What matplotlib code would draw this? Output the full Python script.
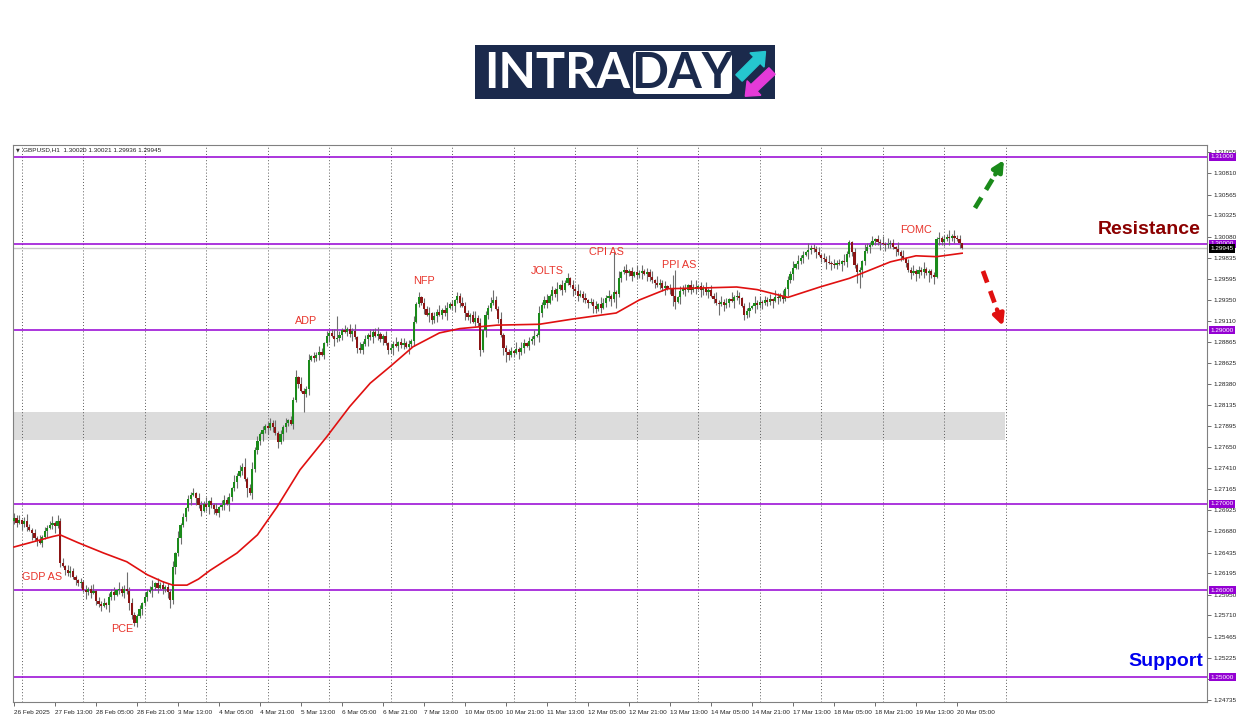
import numpy as np
import matplotlib
matplotlib.use("Agg")
import matplotlib.pyplot as plt
from matplotlib.patches import Rectangle, FancyBboxPatch, FancyArrow
import matplotlib.transforms as mtransforms

# ---------------- data ----------------
# hourly closes in pips above 1.2500 (bar 0 = 26 Feb 21:00)
closes_pips = [
    184, 178, 181, 176, 180, 173,
    170, 166, 160, 158, 155,
    162, 168, 172, 175, 178, 174, 180,
    132,
    128, 124, 120, 122, 115, 112, 108, 110,
    100, 98, 101, 97, 99,
    88, 84, 82, 85, 83,
    92, 98, 95, 100, 102, 97, 101, 99,
    85, 72, 62,
    70, 78, 85, 92, 98, 100,
    104, 108, 103, 106, 101, 104, 98,
    89,
    127,
    143, 160, 175, 185,
    195, 205, 210, 212, 206,
    198, 192, 200, 196, 203, 198, 194, 189, 196, 199, 204, 200, 208,
    218, 225, 232, 238, 242,
    228, 218, 212,
    240, 262, 272, 280, 285,
    290, 287, 293, 288, 282, 271,
    280, 288, 293, 296, 292,
    320, 346,
    338, 330, 326, 332,
    366, 370, 368, 372, 375, 372,
    385, 393, 397,
    394, 390, 391,
    395, 400, 398, 402, 396, 399, 392,
    380, 377, 384,
    390, 395, 392, 398, 394, 396, 390, 393, 385,
    377,
    380, 384, 382, 386, 383, 385, 381, 384, 388,
    410, 430, 438, 432,
    425, 418, 420, 412, 416, 421, 418, 424, 420,
    426, 430, 428, 435, 440, 432, 428,
    420, 415, 418, 410, 414, 408,
    377,
    400, 418, 426, 432, 435, 425, 413,
    395, 380, 375,
    372, 376, 374, 378, 375,
    380, 385, 382, 388, 390, 394, 395,
    420, 429,
    435, 432, 440, 446, 442, 448, 452, 447, 455, 460, 452,
    448, 445, 440, 442, 437, 435, 432, 433,
    428, 425, 430, 426,
    432, 437, 440, 436, 444, 442,
    460, 467, 470,
    466, 468, 463, 467, 464, 466, 469, 465, 467, 462,
    458, 455, 452, 455, 449, 451, 448, 449,
    440, 433, 438,
    445, 449, 446, 452, 447, 450, 448, 451, 446, 449, 444, 447,
    440, 436, 432, 430, 433, 429,
    432, 436, 434, 438, 440, 437, 428, 418,
    422, 426, 428, 432, 429, 433, 431, 435, 433,
    436, 434, 438, 437, 440, 436,
    448, 458, 465, 472,
    476, 480, 484, 487, 490, 493, 495, 494,
    490, 487, 484, 482, 479, 478, 476, 475,
    478, 477, 480, 479, 488, 502,
    490, 475, 467, 470,
    480, 492, 496, 499,
    503, 505, 502, 501, 500, 498, 500, 501,
    496, 494, 490, 486, 483,
    478, 470, 466, 469, 465, 470, 467, 471, 466, 468, 464, 462,
    505,
    507, 502, 505, 508, 506, 509, 507, 505, 500.2, 494.5,
]
first_open_pips = 180

# wick lengths, one digit per bar, in units of 1.6 pips
upper_wick_digits = (
    "324135213241323514231342" "213142351324132415231342" "231423514231324152313241"
    "432513241342315243213524" "231342513241324153241324" "314235132413251423142351"
    "241325134231425132413251" "342315243213524132413251" "423152431324152341325142"
    "314253241324153241325134" "231524132415324132514231" "425132413251423152431324"
    "152413241532413251423152" "324132514231524132415324" "132514231524132413251423"
    "24132514231"
)
lower_wick_digits = (
    "231423152413241352314231" "423152413241352413241532" "314231524132413524132415"
    "241352413241532413251423" "352413241532142315241324" "132415324132514231524132"
    "413251423152413241532413" "251342315241324153241325" "142315241324153241325142"
    "315241324153241325142315" "241324153241325142315241" "324153241325142315241324"
    "153241325142315241324153" "241325142315241324153241" "325142315241324153241325"
    "14231524132"
)
wick_unit_pips = 1.6
# larger wicks (bar: (upper pips, lower pips))
wick_overrides = {
    17: (7, 2), 44: (20, 3), 61: (2, 9), 90: (11, 2), 91: (3, 10), 110: (8, 3),
    113: (3, 20), 126: (25, 3), 158: (6, 3), 173: (4, 3), 187: (11, 3), 192: (3, 12),
    216: (6, 3), 234: (46, 3), 235: (3, 16), 257: (15, 12), 258: (30, 8),
    275: (3, 12), 285: (3, 6), 326: (2, 3), 329: (3, 12), 330: (3, 18),
    357: (3, 10), 359: (3, 8), 370: (0.1, 0.9),
}

# moving average (bar, pips)
ma_bars = [0, 10, 15, 18, 25, 35, 44, 52, 58, 62, 67.5, 72, 76.5, 87, 95, 102.6, 111.6,
           122, 131, 139, 146.7, 155.7, 166, 174, 188.5, 205, 218, 235, 244, 255, 270,
           282, 290, 302, 314.5, 326, 342, 352, 360, 370]
ma_pips = [150, 158, 162, 164, 155, 143, 133, 118, 110, 106, 106, 113, 123, 143, 164,
           196, 239, 277, 312, 339, 358, 381, 397, 402, 406, 407, 413, 420, 435, 448,
           449, 450, 447, 438, 450, 460, 479, 486, 485, 489]

levels = [1.31000, 1.30000, 1.29000, 1.27000, 1.26000, 1.25000]
zone_low, zone_high = 1.27735, 1.28062
last_price = 1.29945

price_ticks = [1.31055, 1.30810, 1.30565, 1.30325, 1.30080, 1.29835, 1.29595, 1.29350,
               1.29110, 1.28865, 1.28625, 1.28380, 1.28135, 1.27895, 1.27650, 1.27410,
               1.27165, 1.26925, 1.26680, 1.26435, 1.26195, 1.25950, 1.25710, 1.25465,
               1.25225, 1.24980, 1.24735]

x_label_bars = [16 * k for k in range(24)]
x_labels = ['26 Feb 2025', '27 Feb 13:00', '28 Feb 05:00', '28 Feb 21:00', '3 Mar 13:00',
            '4 Mar 05:00', '4 Mar 21:00', '5 Mar 13:00', '6 Mar 05:00', '6 Mar 21:00',
            '7 Mar 13:00', '10 Mar 05:00', '10 Mar 21:00', '11 Mar 13:00', '12 Mar 05:00',
            '12 Mar 21:00', '13 Mar 13:00', '14 Mar 05:00', '14 Mar 21:00', '17 Mar 13:00',
            '18 Mar 05:00', '18 Mar 21:00', '19 Mar 13:00', '20 Mar 05:00']
day_grid_bars = [3 + 24 * k for k in range(17)]

event_labels = ['GDP AS', 'PCE', 'ADP', 'NFP', 'JOLTS', 'CPI AS', 'PPI AS', 'FOMC']
event_bars = [3.1, 37.9, 109.7, 155.7, 201.8, 224.4, 252.9, 345.8]
event_prices = [1.26154, 1.25554, 1.29108, 1.29569, 1.29690, 1.29904, 1.29754, 1.30158]

header = "GBPUSD,H1  1.30020 1.30021 1.29936 1.29945"

# ---------------- figure ----------------
W, H = 1250, 716
SMALL = 4.6
fig = plt.figure(figsize=(12.5, 7.16), dpi=100)
fig.patch.set_facecolor('white')

ax = fig.add_axes([13 / W, 1 - 702 / H, (1207 - 13) / W, (702 - 145) / H])
ax.set_facecolor('white')

closes = np.array(closes_pips, dtype=float) / 10000 + 1.25
n = len(closes)
opens = np.concatenate([[first_open_pips / 10000 + 1.25], closes[:-1]])
up_w = np.array([int(c) for c in upper_wick_digits[:n]], dtype=float) * wick_unit_pips
lo_w = np.array([int(c) for c in lower_wick_digits[:n]], dtype=float) * wick_unit_pips
for b, (u, l) in wick_overrides.items():
    if b < n:
        up_w[b], lo_w[b] = u, l
highs = np.maximum(opens, closes) + up_w / 10000
lows = np.minimum(opens, closes) - lo_w / 10000
idx = np.arange(n)

# zone and levels
ax.add_patch(Rectangle((-1, zone_low), 387.8, zone_high - zone_low,
                       facecolor='#dcdcdc', edgecolor='none', zorder=0))
for b in day_grid_bars:
    ax.axvline(b, color='#5a5a5a', lw=0.7, dashes=(1, 2.2), zorder=0.5)
ax.axhline(last_price, color='#c8c8c8', lw=1.0, zorder=0.6)
for lv in levels:
    ax.axhline(lv, color='#9400d3', lw=1.1, zorder=1)

# candles
ax.vlines(idx, lows, highs, color='#6e6e6e', lw=0.8, zorder=2)
bull = closes >= opens
body_h = np.maximum(np.abs(closes - opens), 0.00004)
body_b = np.minimum(opens, closes)
ax.bar(idx[bull], body_h[bull], bottom=body_b[bull], width=0.85, color='#1a8a1a',
       edgecolor='none', zorder=3)
ax.bar(idx[~bull], body_h[~bull], bottom=body_b[~bull], width=0.85, color='#8b1515',
       edgecolor='none', zorder=3)

# moving average
ax.plot(ma_bars, np.array(ma_pips) / 10000 + 1.25, color='#e01010', lw=1.2, zorder=4,
        solid_joinstyle='round')

# event labels
for lab, bx, py in zip(event_labels, event_bars, event_prices):
    ax.text(bx, py, lab, color='#e8352c', fontsize=7.8, family='Liberation Sans',
            ha='left', va='center', zorder=5)

ax.set_xlim((13 - 14) / 2.5625, (1207 - 14) / 2.5625)
ax.set_ylim(1.25 - 25 / 8667, 1.31 + 12 / 8667)

# axes styling
for s in ax.spines.values():
    s.set_color('#808080')
    s.set_linewidth(0.8)
ax.yaxis.tick_right()
ax.set_yticks(price_ticks)
ax.set_yticklabels([f"{v:.5f}" for v in price_ticks], family='Liberation Sans')
ax.tick_params(axis='y', labelsize=SMALL, length=3, width=0.6, color='#555555', pad=2,
               labelcolor='#222222')
ax.set_xticks(x_label_bars)
ax.set_xticklabels(x_labels, ha='left', family='Liberation Sans')
ax.tick_params(axis='x', labelsize=SMALL, length=3, width=0.6, color='#555555', pad=2.5,
               labelcolor='#222222')

# price labels on the right
blend = mtransforms.blended_transform_factory(ax.transAxes, ax.transData)
for lv in levels:
    ax.text(1.003, lv, f"{lv:.5f}", transform=blend, fontsize=SMALL, color='white',
            family='Liberation Sans', va='center', ha='left', clip_on=False, zorder=10,
            bbox=dict(boxstyle='square,pad=0.25', fc='#9400d3', ec='none'))
ax.text(1.003, last_price, f"{last_price:.5f}", transform=blend, fontsize=SMALL,
        family='Liberation Sans', color='white', va='center', ha='left', clip_on=False,
        zorder=10, bbox=dict(boxstyle='square,pad=0.25', fc='black', ec='none'))

# header
fig.text(16 / W, 1 - 150 / H, "\u25BC", fontsize=3.5, color='#333333', va='center', ha='left')
fig.text(23 / W, 1 - 150 / H, header, fontsize=SMALL, family='Liberation Sans',
         color='#222222', va='center', ha='left')

# ---------------- overlay (pixel coordinates) ----------------
lax = fig.add_axes([0, 0, 1, 1])
lax.set_xlim(0, W)
lax.set_ylim(H, 0)
lax.axis('off')
lax.patch.set_alpha(0)

# logo
lax.add_patch(Rectangle((475, 45), 300, 54, facecolor='#1b2a4c', edgecolor='none'))
lax.text(557, 73, "INTRA", color='white', fontsize=35, family='Lato', weight='bold',
         ha='center', va='center')
lax.add_patch(FancyBboxPatch((633, 51), 99, 43, boxstyle='round,pad=0,rounding_size=4',
                             facecolor='white', edgecolor='none'))
lax.text(682.5, 73, "DAY", color='#1b2a4c', fontsize=35, family='Lato', weight='bold',
         ha='center', va='center')
lax.add_patch(FancyArrow(739, 78, 18, -18, width=9, head_width=20, head_length=12,
                         length_includes_head=False, color='#25c6cf'))
lax.add_patch(FancyArrow(772, 71, -18, 17, width=9, head_width=20, head_length=12,
                         length_includes_head=False, color='#e43ad8'))

# resistance / support
lax.text(1201, 230, "Resistance", color='#8b0000', fontsize=14, family='Liberation Sans',
         weight='bold', ha='right', va='center')
lax.text(1203, 661, "Support", color='#0000ee', fontsize=14, family='Liberation Sans',
         weight='bold', ha='right', va='center')


def dashed_arrow(x0, y0, x1, y1, color):
    f = 0.62
    xs, ys = x0 + (x1 - x0) * f, y0 + (y1 - y0) * f
    lax.plot([x0, xs], [y0, ys], color=color, lw=3.4, dashes=(2.6, 1.9),
             solid_capstyle='butt')
    lax.annotate('', xy=(x1, y1), xytext=(xs + (x1 - x0) * 0.08, ys + (y1 - y0) * 0.08),
                 arrowprops=dict(arrowstyle='-|>', mutation_scale=16, color=color, lw=3.2,
                                 shrinkA=0, shrinkB=0))


dashed_arrow(975, 208, 1004, 160, '#1a8a1a')
dashed_arrow(983, 271, 1003, 326, '#e01010')

fig.savefig('out.png', dpi=100, facecolor='white')
